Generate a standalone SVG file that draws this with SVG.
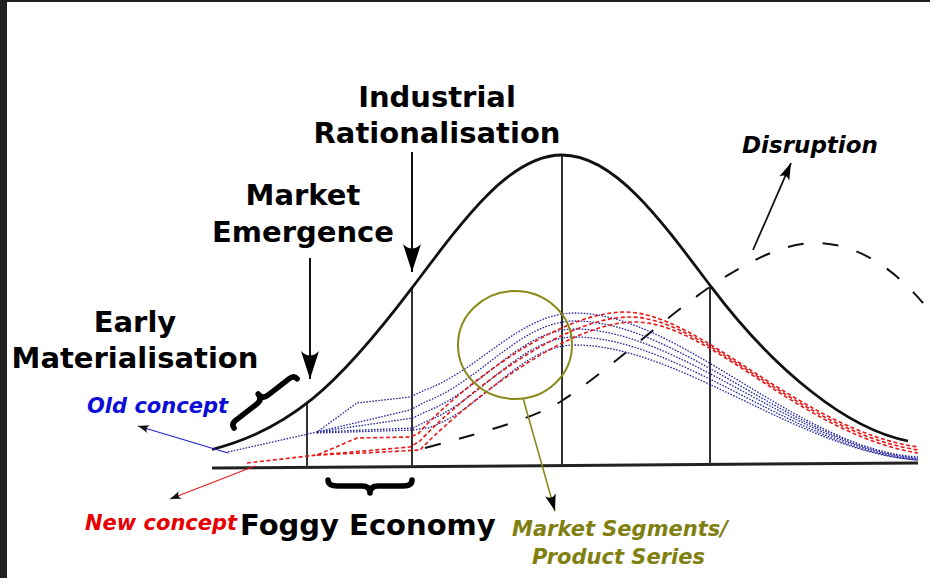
<svg xmlns="http://www.w3.org/2000/svg" width="930" height="578" viewBox="0 0 930 578">
<style>
.big{font-family:"DejaVu Sans",sans-serif;font-weight:bold;font-size:29px;fill:#000;text-anchor:middle}
.sm{font-family:"DejaVu Sans",sans-serif;font-weight:bold;font-style:italic;font-size:21px}
.vl{stroke:#333;stroke-width:2;fill:none}
.blue{stroke:#2a2aa0;stroke-width:1.3;fill:none;stroke-dasharray:1.6 1.4}
.red{stroke:#e81818;stroke-width:1.6;fill:none;stroke-dasharray:4 2.5}
.brace{stroke:#000;stroke-width:5.5;fill:none;stroke-linecap:round;stroke-linejoin:round}
</style>
<defs>
<marker id="bigArrow" markerUnits="userSpaceOnUse" markerWidth="32" markerHeight="22" viewBox="-30 -11 32 22" refX="0" refY="0" orient="auto">
<path d="M0,0 L-28,-9 Q-19,0 -28,9 Z" fill="#000"/>
</marker>
<marker id="midArrow" markerUnits="userSpaceOnUse" markerWidth="20" markerHeight="14" viewBox="-18 -7 20 14" refX="0" refY="0" orient="auto">
<path d="M0,0 L-17,-5.5 Q-11,0 -17,5.5 Z" fill="#000"/>
</marker>
<marker id="smallArrow" markerUnits="userSpaceOnUse" markerWidth="14" markerHeight="10" viewBox="-12 -5 14 10" refX="0" refY="0" orient="auto">
<path d="M0,0 L-11,-4 Q-7,0 -11,4 Z" fill="#111"/>
</marker>
</defs>
<rect width="930" height="578" fill="#fff"/>
<rect x="0" y="0" width="7" height="578" fill="#202020"/>
<rect x="0" y="0" width="930" height="2" fill="#202020"/>

<g id="axes">
<path d="M212,468 L918,463" stroke="#222" stroke-width="3" fill="none"/>
<path class="vl" d="M307,467 V404"/>
<path class="vl" d="M412,466 V289"/>
<path class="vl" d="M562,465 V155"/>
<path class="vl" d="M710,464 V287"/>
</g>

<g id="bell-curve">
<path d="M212,449.5 C245.3,441.1 278.7,426.2 312,399.2 C345.3,372.2 378.7,331.9 412,287.9 C437,254.9 462,220.7 487,195.5 C512,170.3 537,155 562,155 C587,155 612,170.3 637,195.5 C662,220.7 687,254.9 712,287.9 C745.3,331.9 778.7,366 812,392 C845,418 878,435 908,441" stroke="#111" stroke-width="2.8" fill="none"/>
</g>

<g id="disruption-curve">
<path d="M425,448 C480,433 530,420 560,402 C610,370 660,320 720,280 C760,255 790,242 820,243 C860,245 895,270 923,303" stroke="#111" stroke-width="2" fill="none" stroke-dasharray="16 19"/>
</g>

<g id="old-concept-lines">
<path class="blue" d="M228,452 L317,432 L357,403 L410,397 L425,390 C480,370 520,313 575,313 C680,313 800,450 918,457"/>
<path class="blue" d="M317,432 L410,410 L425,402 C480,382 520,321 575,321 C680,321 800,450 918,458"/>
<path class="blue" d="M317,432 L413,418 L425,412 C480,392 520,329 575,329 C680,329 800,450 918,459"/>
<path class="blue" d="M317,432 L413,428 L425,422 C480,402 520,337 575,337 C680,337 800,451 918,460"/>
<path class="blue" d="M317,433 L413,430 L428,428 C483,410 520,345 575,345 C680,345 800,452 918,460"/>
</g>

<g id="new-concept-lines">
<path class="red" d="M247,463 L317,455 L357,438 L410,437 L418,434 C445,402 550,312 625,312 C700,312 800,430 918,447"/>
<path class="red" d="M317,455 L410,447 L420,441 C448,410 555,317 630,317 C705,317 800,432 918,450"/>
<path class="red" d="M317,455 L383,452 L420,450 C450,418 560,322 635,322 C710,322 800,434 918,453"/>
</g>

<g id="market-segments-circle">
<ellipse cx="515" cy="345" rx="57" ry="54" stroke="#8a8a1a" stroke-width="2" fill="none"/>
</g>

<g id="connectors">
<path d="M310,258 V379" stroke="#111" stroke-width="2" fill="none" marker-end="url(#bigArrow)"/>
<path d="M412,152 V272" stroke="#111" stroke-width="2" fill="none" marker-end="url(#bigArrow)"/>
<path d="M753,250 L791,163" stroke="#111" stroke-width="1.8" fill="none" marker-end="url(#midArrow)"/>
<path d="M228,453 L138,426" stroke="#2020d0" stroke-width="1.2" fill="none" marker-end="url(#smallArrow)"/>
<path d="M255,466 L170,499" stroke="#e02020" stroke-width="1.2" fill="none" marker-end="url(#smallArrow)"/>
<path d="M523,398 L555,511" stroke="#8a8a1a" stroke-width="1.6" fill="none" marker-end="url(#midArrow)"/>
</g>

<g id="braces">
<path class="brace" d="M328,480 Q328,486 338,486 L362,486 Q370,486 370,493 Q370,486 378,486 L403,486 Q412,486 412,480"/>
<g transform="translate(262.5,399.5) rotate(-38)">
<path class="brace" d="M-40,5 Q-40,0 -34,0 L-7,0 Q0,0 0,-7 Q0,0 7,0 L34,0 Q40,0 40,5"/>
</g>
</g>

<g id="label-industrial">
<text class="big" x="437" y="107">Industrial</text>
<text class="big" x="437" y="143">Rationalisation</text>
</g>
<g id="label-market-emergence">
<text class="big" x="303" y="205">Market</text>
<text class="big" x="303" y="242">Emergence</text>
</g>
<g id="label-early">
<text class="big" x="135" y="332">Early</text>
<text class="big" x="135" y="368">Materialisation</text>
</g>
<g id="label-disruption">
<text class="sm" x="742" y="153" style="font-size:23px" fill="#000">Disruption</text>
</g>
<g id="label-old-concept">
<text class="sm" x="87" y="413" fill="#0c0cd6">Old concept</text>
</g>
<g id="label-new-concept">
<text class="sm" x="85" y="530" fill="#e60000">New concept</text>
</g>
<g id="label-foggy">
<text class="big" x="240" y="535" style="text-anchor:start">Foggy Economy</text>
</g>
<g id="label-market-segments">
<text class="sm" x="512" y="536" fill="#808010">Market Segments/</text>
<text class="sm" x="532" y="564" fill="#808010">Product Series</text>
</g>
</svg>
